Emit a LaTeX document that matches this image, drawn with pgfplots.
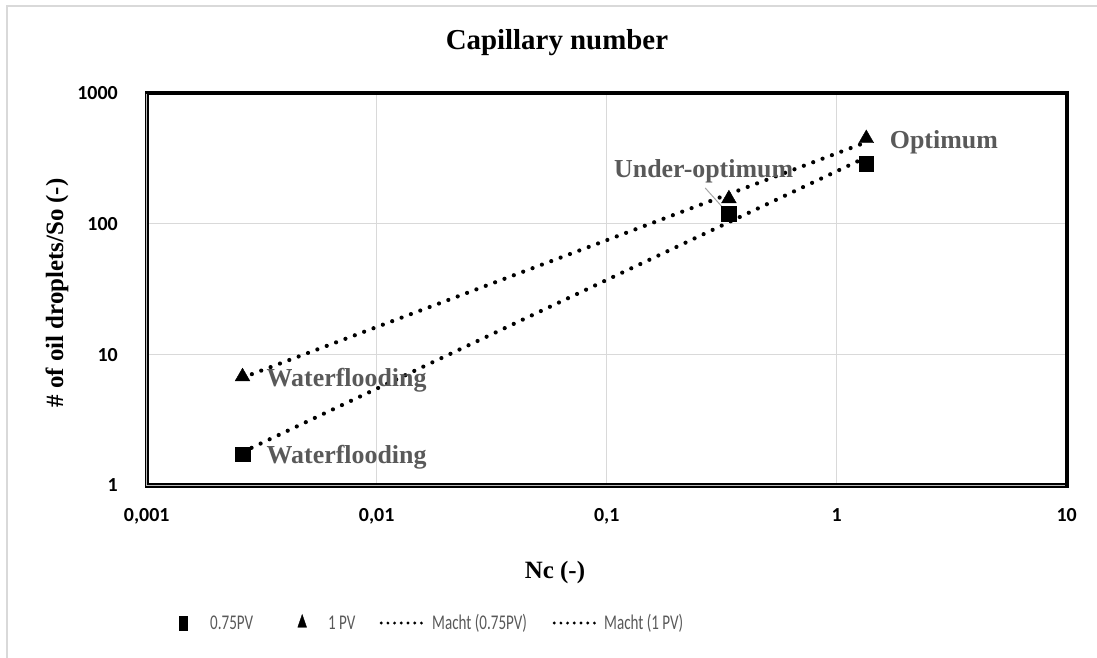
\documentclass[border=0pt]{standalone}
\usepackage{fontspec}
\setmainfont{Liberation Serif}
\newfontfamily\calibri{Carlito}
\usepackage{pgfplots}
\pgfplotsset{compat=1.18}
\usepackage{graphicx}

\definecolor{gridgray}{HTML}{D9D9D9}
\definecolor{labelgray}{HTML}{595959}

% data: capillary number vs. number of oil droplets per So
\pgfplotstableread{
x       y
0.00261 1.74
0.340   119
1.345   288
}\pvA
\pgfplotstableread{
x       y
0.00261 6.79
0.340   155.6
1.345   449
}\pvB
% power-law trend lines (end points)
\pgfplotstableread{
x       y
0.00261 1.80
1.345   323
}\trendA
\pgfplotstableread{
x       y
0.00261 6.67
1.345   421
}\trendB

\newcommand{\legtext}[2]{\makebox[#1][l]{\scalebox{0.72}[1]{#2}}}

% legend pictures: a narrow marker, or a short dotted line, in a box of given width
\pgfplotsset{
  markleg/.style={legend image code/.code={
    \path[draw=none, fill=none] (0bp,-6bp) rectangle (#1,6bp);
    \draw[##1, every mark/.append style={xscale=0.6}] plot coordinates {(13bp,0bp)};}},
  lineleg/.style={legend image code/.code={
    \path[draw=none, fill=none] (0bp,-6bp) rectangle (#1,6bp);
    \draw[black, line width=3.2bp, dash pattern=on 0bp off 6.7bp, line cap=round] (6bp,0bp) -- (52bp,0bp);}},
}

\begin{document}
\begin{tikzpicture}
\useasboundingbox (0bp,0bp) rectangle (1097bp,658bp);
% chart area border
\draw[gridgray, line width=1.5bp] (7bp,0bp) -- (7bp,652bp) -- (1097bp,652bp);

\begin{axis}[
  name=ax,
  at={(146.7bp,172.5bp)}, anchor=south west,
  scale only axis, width=920bp, height=392.5bp,
  xmode=log, ymode=log,
  xmin=0.001, xmax=10, ymin=1, ymax=1000,
  xtick={0.001,0.01,0.1,1,10},
  xticklabels={{0,001},{0,01},{0,1},{1},{10}},
  ytick={1,10,100,1000},
  yticklabels={1,10,100,1000},
  xminorticks=false, yminorticks=false,
  major tick length=0pt,
  grid=major,
  grid style={gridgray, line width=1.3bp},
  axis line style={black, line width=4.3bp},
  ticklabel style={font=\calibri\bfseries\fontsize{20}{20}\selectfont, text=black},
  xticklabel style={inner sep=0pt, anchor=north, yshift=-22.5bp},
  yticklabel style={inner sep=0pt, anchor=east, xshift=-28.7bp},
  title={Capillary number},
  title style={at={(axis description cs:0.4459,1.0968)}, anchor=base,
    font=\bfseries\fontsize{29}{29}\selectfont, inner sep=0pt},
  xlabel={Nc (-)},
  every axis x label/.style={at={(axis description cs:0.4438,-0.2382)}, anchor=base,
    font=\bfseries\fontsize{25}{25}\selectfont, inner sep=0pt},
  ylabel={\# of oil droplets/So (-)},
  every axis y label/.style={at={(axis description cs:-0.0975,0.4904)}, anchor=center,
    rotate=90, font=\bfseries\fontsize{25}{25}\selectfont, inner sep=0pt},
  clip=false,
  legend columns=4,
  legend style={at={(axis description cs:0.02533,-0.3503)}, anchor=west,
    draw=none, fill=none, inner sep=0pt, column sep=0pt,
    cells={anchor=west},
    nodes={inner sep=0pt, text=labelgray, font=\calibri\fontsize{21}{21}\selectfont}},
]
\addplot[only marks, mark=square*, mark size=7.3bp, black, markleg=40bp]
  table {\pvA};
\addlegendentry{\legtext{79bp}{0.75PV}}
\addplot[only marks, mark=triangle*, mark size=8.5bp, black, markleg=39bp]
  table {\pvB};
\addlegendentry{\legtext{47bp}{1 PV}}
\addplot[black, line width=4.2bp, dash pattern=on 0bp off 10bp, line cap=round, lineleg=57bp]
  table {\trendA};
\addlegendentry{\legtext{116bp}{Macht (0.75PV)}}
\addplot[black, line width=4.2bp, dash pattern=on 0bp off 10bp, line cap=round, lineleg=56bp]
  table {\trendB};
\addlegendentry{\legtext{110bp}{Macht (1 PV)}}

% point labels
\begin{scope}[every node/.style={font=\bfseries\fontsize{26}{26}\selectfont, text=labelgray, inner sep=0pt, anchor=base west}]
\node at (axis cs:0.00332,1.46) {Waterflooding};
\node at (axis cs:0.00332,5.69) {Waterflooding};
\node at (axis cs:0.1076,224.4) {Under-optimum};
\node at (axis cs:1.70,377.6) {Optimum};
\end{scope}
\draw[gray!70, line width=1bp] (axis cs:0.268,188.2) -- (axis cs:0.336,120.7);
\end{axis}
% double rule on the left and bottom edges of the plot frame
\draw[gray!55, line width=1.4bp] ([yshift=-1bp]ax.north west) -- (ax.south west) -- ([xshift=-2bp]ax.south east);
\end{tikzpicture}
\end{document}
